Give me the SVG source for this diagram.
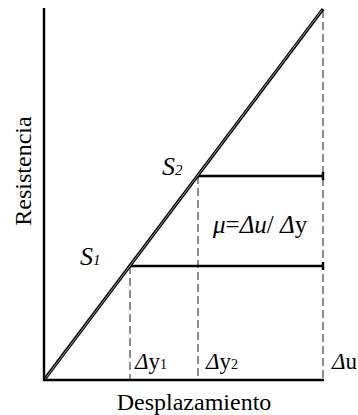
<svg xmlns="http://www.w3.org/2000/svg" width="358" height="415" viewBox="0 0 358 415">
<style>
.axis{stroke:#000;stroke-width:2.4;fill:none}
.solid{stroke:#000;stroke-width:2.4;fill:none}
.diag{stroke:#000;stroke-width:3.2;fill:none}
.diagin{stroke:#fff;stroke-width:0.6;fill:none}
.dash{stroke:#333;stroke-width:1.1;stroke-dasharray:8,4;fill:none}
text{font-family:"Liberation Serif","Times New Roman",serif;fill:#000}
.lab{font-size:24px}
.it{font-style:italic}
</style>
<rect width="358" height="415" fill="#fff"/>
<g id="connectors">
<line class="dash" x1="323" y1="10" x2="323" y2="380"/>
<line class="dash" x1="130" y1="266" x2="130" y2="380"/>
<line class="dash" x1="198" y1="176" x2="198" y2="380"/>
<line class="solid" x1="130" y1="266" x2="323" y2="266"/>
<line class="solid" x1="198" y1="176" x2="323" y2="176"/>
<line class="solid" x1="323" y1="262" x2="323" y2="270"/>
<line class="solid" x1="323" y1="172" x2="323" y2="180"/>
<line class="diag" x1="44" y1="380" x2="323" y2="9"/>
<line class="diagin" x1="45" y1="379" x2="322" y2="10"/>
</g>
<g id="axes">
<line class="axis" x1="44" y1="8" x2="44" y2="381"/>
<line class="axis" x1="43" y1="380" x2="324" y2="380"/>
</g>
<g id="labels">
<text class="lab" x="194" y="410" text-anchor="middle">Desplazamiento</text>
<text class="lab" transform="translate(31,171) rotate(-90)" text-anchor="middle" font-size="25">Resistencia</text>
<text x="162" y="175" font-size="26"><tspan class="it">S</tspan><tspan font-size="15" class="it">2</tspan></text>
<text x="80" y="265" font-size="26"><tspan class="it">S</tspan><tspan font-size="15" class="it">1</tspan></text>
<text x="213" y="233" font-size="25"><tspan class="it">μ</tspan>=<tspan class="it">Δu</tspan>/ <tspan class="it">Δ</tspan>y</text>
<text x="135" y="369" font-size="23"><tspan class="it">Δ</tspan>y<tspan font-size="14">1</tspan></text>
<text x="206" y="369" font-size="23"><tspan class="it">Δ</tspan>y<tspan font-size="14">2</tspan></text>
<text x="332" y="369" font-size="23"><tspan class="it">Δ</tspan>u</text>
</g>
</svg>
